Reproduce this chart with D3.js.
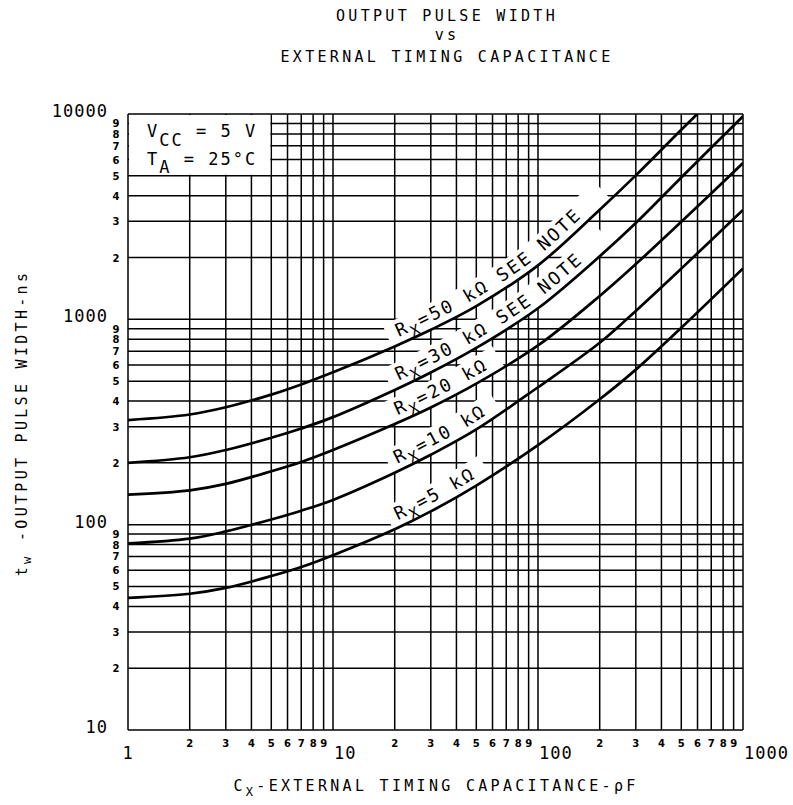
<!DOCTYPE html>
<meta charset="utf-8">
<title>Output pulse width vs external timing capacitance</title>
<body style="margin:0;background:#fff;">
<div id="chart"></div>
<script src="https://d3js.org/d3.v7.min.js"></script>
<script>

// capacitance (pF) where each curve was read
const capacitance = [1, 2, 3, 5, 7, 10, 20, 30, 50, 100, 200, 300, 500, 1000];
// output pulse width (ns) for each timing resistor
const rx50k = [323, 344, 373, 430, 482, 552, 738, 889, 1159, 1832, 3420, 5024, 8375, 16600];
const rx30k = [200, 213, 231, 265, 294, 334, 453, 551, 726, 1132, 2028, 2944, 4909, 9750];
const rx20k = [140, 147, 158, 182, 202, 231, 309, 372, 486, 746, 1300, 1858, 2985, 5768];
const rx10k = [81, 85.5, 92.7, 106, 117, 132, 179, 219, 291, 467, 769, 1099, 1766, 3412];
const rx5k  = [44, 46.1, 49.2, 56.2, 62.2, 71, 95, 116, 155, 244, 408, 569, 910, 1770];
const curveNames = ["50 k\u03A9 SEE NOTE", "30 k\u03A9 SEE NOTE", "20 k\u03A9", "10 k\u03A9", "5 k\u03A9"];

const majorX = [1, 10, 100, 1000];
const majorY = [10, 100, 1000, 10000];
const minorDigits = [2, 3, 4, 5, 6, 7, 8, 9];

const W = 793, H = 805;
const plot = {left: 128, right: 743, top: 114, bottom: 730};
const plotter = "'DejaVu Sans Mono', monospace";

const svg = d3.select("#chart").append("svg")
  .attr("width", W).attr("height", H)
  .style("background", "#fff");

const x = d3.scaleLog().domain([1, 1000]).range([plot.left, plot.right]);
const y = d3.scaleLog().domain([10, 10000]).range([plot.bottom, plot.top]);

const defs = svg.append("defs");
defs.append("clipPath").attr("id", "clip")
  .append("rect")
    .attr("x", plot.left).attr("y", plot.top)
    .attr("width", plot.right - plot.left).attr("height", plot.bottom - plot.top);

// grid values: every 1..9 in each decade
const gridX = [], gridY = [];
[1, 10, 100].forEach(d => d3.range(1, 10).forEach(k => gridX.push(d * k)));
gridX.push(1000);
[10, 100, 1000].forEach(d => d3.range(1, 10).forEach(k => gridY.push(d * k)));
gridY.push(10000);

const grid = svg.append("g").attr("stroke", "#000").attr("stroke-width", 1.5);
grid.selectAll("line.v").data(gridX).join("line")
  .attr("x1", d => x(d)).attr("x2", d => x(d))
  .attr("y1", plot.top).attr("y2", plot.bottom);
grid.selectAll("line.h").data(gridY).join("line")
  .attr("y1", d => y(d)).attr("y2", d => y(d))
  .attr("x1", plot.left).attr("x2", plot.right);

// tick labels
svg.append("g").selectAll("text").data(majorX).join("text")
  .attr("x", d => d === 1 ? x(d) : x(d) + 1)
  .attr("y", 759)
  .attr("text-anchor", d => d === 1 ? "middle" : "start")
  .attr("font-family", plotter).attr("font-size", 17).attr("letter-spacing", 1)
  .text(d => d);

svg.append("g").selectAll("text").data(majorY).join("text")
  .attr("x", 108).attr("y", d => y(d) + 3)
  .attr("text-anchor", "end")
  .attr("font-family", plotter).attr("font-size", 17).attr("letter-spacing", 1)
  .text(d => d);

const minorXv = [], minorYv = [];
[1, 10, 100].forEach(d => minorDigits.forEach(k => minorXv.push({v: d * k, k})));
[10, 100, 1000].forEach(d => minorDigits.forEach(k => minorYv.push({v: d * k, k})));

svg.append("g").selectAll("text").data(minorXv).join("text")
  .attr("x", d => x(d.v)).attr("y", 747)
  .attr("text-anchor", "middle")
  .attr("font-family", "'DejaVu Sans', sans-serif").attr("font-weight", "bold").attr("font-size", 10)
  .text(d => d.k);

svg.append("g").selectAll("text").data(minorYv).join("text")
  .attr("x", 116).attr("y", d => y(d.v) + 4)
  .attr("text-anchor", "middle")
  .attr("font-family", "'DejaVu Sans', sans-serif").attr("font-weight", "bold").attr("font-size", 10)
  .text(d => d.k);

// conditions box in the top left corner
svg.append("rect")
  .attr("x", x(1) + 1).attr("y", y(10000) + 1)
  .attr("width", x(5) - x(1) - 2).attr("height", y(5000) - y(10000) - 2)
  .attr("fill", "#fff");
const cond = svg.append("g").attr("font-family", plotter).attr("font-size", 17).attr("letter-spacing", 2);
const t1 = cond.append("text").attr("x", 147).attr("y", 137);
t1.append("tspan").text("V");
t1.append("tspan").attr("dy", 9).text("CC");
t1.append("tspan").attr("dy", -9).text(" = 5 V");
const t2 = cond.append("text").attr("x", 147).attr("y", 165);
t2.append("tspan").text("T");
t2.append("tspan").attr("dy", 8).text("A");
t2.append("tspan").attr("dy", -8).text(" = 25\u00B0C");

// curves
const series = [rx50k, rx30k, rx20k, rx10k, rx5k].map((vals, i) => ({
  name: curveNames[i],
  points: capacitance.map((c, j) => [c, vals[j]])
}));

const line = d3.line().x(d => x(d[0])).y(d => y(d[1])).curve(d3.curveCatmullRom.alpha(0.5));

const bandLayer = svg.append("g");
const curveLayer = svg.append("g").attr("clip-path", "url(#clip)");
const labelLayer = svg.append("g");

series.forEach(s => {
  s.node = curveLayer.append("path")
    .attr("d", line(s.points))
    .attr("fill", "none").attr("stroke", "#000").attr("stroke-width", 2.7)
    .node();
});

// path running beside a curve, offset to its upper side
function offsetPath(node, x0, x1, off) {
  const L = node.getTotalLength(), pts = [];
  for (let l = 0; l <= L; l += 2) {
    const p = node.getPointAtLength(l), q = node.getPointAtLength(Math.min(L, l + 1));
    if (p.x < x0 || p.x > x1) continue;
    const dx = q.x - p.x, dy = q.y - p.y, n = Math.hypot(dx, dy) || 1;
    pts.push([p.x + dy / n * off, p.y - dx / n * off]);
  }
  return d3.line()(pts);
}

const labelEnds = [612, 614, 505, 503, 492];
series.forEach((s, i) => {
  bandLayer.append("path")
    .attr("d", offsetPath(s.node, 392, labelEnds[i], 12.5))
    .attr("fill", "none").attr("stroke", "#fff").attr("stroke-width", 24);
  defs.append("path").attr("id", "lab" + i).attr("d", offsetPath(s.node, 380, 760, 7));
  const t = labelLayer.append("text")
    .attr("font-family", plotter).attr("font-size", 18).attr("letter-spacing", 2.3)
    .append("textPath").attr("href", "#lab" + i).attr("startOffset", 22);
  t.append("tspan").text("R");
  t.append("tspan").attr("dy", 6).attr("font-size", 15).text("X");
  t.append("tspan").attr("dy", -6).text("=" + s.name);
});

// titles
const title = svg.append("g").attr("font-family", plotter).attr("font-size", 15)
  .attr("letter-spacing", 3.3).attr("text-anchor", "middle");
title.append("text").attr("x", 447).attr("y", 21).text("OUTPUT PULSE WIDTH");
title.append("text").attr("x", 447).attr("y", 40).text("vs");
title.append("text").attr("x", 447).attr("y", 62).text("EXTERNAL TIMING CAPACITANCE");

const xt = svg.append("text").attr("x", 436).attr("y", 791)
  .attr("font-family", plotter).attr("font-size", 15).attr("letter-spacing", 3.3)
  .attr("text-anchor", "middle");
xt.append("tspan").text("C");
xt.append("tspan").attr("dy", 5).attr("font-size", 12).text("X");
xt.append("tspan").attr("dy", -5).text("-EXTERNAL TIMING CAPACITANCE-\u03C1F");

const yt = svg.append("text")
  .attr("transform", "translate(27,423) rotate(-90)")
  .attr("font-family", plotter).attr("font-size", 15).attr("letter-spacing", 3.3)
  .attr("text-anchor", "middle");
yt.append("tspan").text("t");
yt.append("tspan").attr("dy", 4).attr("font-size", 12).text("w");
yt.append("tspan").attr("dy", -4).text(" -OUTPUT PULSE WIDTH-ns");

</script>
